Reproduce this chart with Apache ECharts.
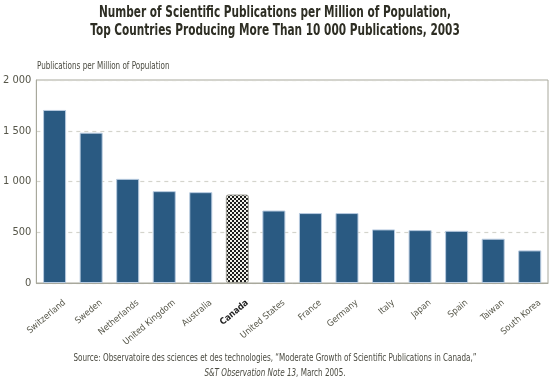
<!DOCTYPE html>
<html><head><meta charset="utf-8">
<script src="https://cdn.jsdelivr.net/npm/echarts@6/dist/echarts.min.js"></script>
<style>html,body{margin:0;padding:0;background:#fff}#c{width:550px;height:392px}</style>
</head><body><div id="c"></div>
<script>
const countries = ["Switzerland","Sweden","Netherlands","United Kingdom","Australia","Canada","United States","France","Germany","Italy","Japan","Spain","Taiwan","South Korea"];
const pubsPerMillion = [1705,1481,1026,905,895,872,714,689,689,528,521,514,436,321];
const yTicks = [0,500,1000,1500,2000];
const highlight = "Canada";
const titleLines = ["Number of Scientific Publications per Million of Population,","Top Countries Producing More Than 10 000 Publications, 2003"];
const yAxisTitle = "Publications per Million of Population";
const sourceLine1 = "Source: Observatoire des sciences et des technologies, \u201cModerate Growth of Scientific Publications in Canada,\u201d";
const sourceItalic = "S&T Observation Note 13";
const sourceRest = ", March 2005.";

const FAM = '"Liberation Sans Narrow","DejaVu Sans Condensed","Noto Sans",sans-serif';
const mc = document.createElement('canvas').getContext('2d');
function measure(text, font){ mc.font = font; return mc.measureText(text).width; }
// condense factors so text widths match the reference's narrow typeface
const titleScale = 352 / measure(titleLines[0], 'bold 15px ' + FAM);
const smallScale = 403 / measure(sourceLine1, '10px ' + FAM);

// checker pattern for highlighted bar
const pc = document.createElement('canvas');
pc.width = 4; pc.height = 4;
const g = pc.getContext('2d');
g.fillStyle = '#f2f2ea'; g.fillRect(0,0,4,4);
g.fillStyle = '#1e1e1e';
g.fillRect(0,0,2,2); g.fillRect(2,2,2,2);

const fmt = v => { const s = String(v); return s.length > 3 ? s.slice(0, s.length-3) + ' ' + s.slice(-3) : s; };

const textColor = '#4a4a40';

const chart = echarts.init(document.getElementById('c'), null, {renderer:'canvas'});
chart.setOption({
  animation:false,
  graphic:[
    {type:'text', x:275, y:6, scaleX:titleScale, silent:true,
      style:{text:titleLines[0], font:'bold 15px '+FAM, fill:'#2e2e24', align:'center', verticalAlign:'top'}},
    {type:'text', x:275, y:24, scaleX:titleScale, silent:true,
      style:{text:titleLines[1], font:'bold 15px '+FAM, fill:'#2e2e24', align:'center', verticalAlign:'top'}},
    {type:'text', x:37, y:61, scaleX:smallScale, silent:true,
      style:{text:yAxisTitle, font:'10px '+FAM, fill:textColor, align:'left', verticalAlign:'top'}},
    {type:'text', x:275, y:353, scaleX:smallScale, silent:true,
      style:{text:sourceLine1, font:'10px '+FAM, fill:textColor, align:'center', verticalAlign:'top'}},
    {type:'text', x:275, y:368, scaleX:smallScale, silent:true,
      style:{text:'{i|'+sourceItalic+'}{n|'+sourceRest+'}', font:'10px '+FAM, fill:textColor, align:'center', verticalAlign:'top',
        rich:{i:{font:'italic 10px '+FAM, fill:textColor}, n:{font:'10px '+FAM, fill:textColor}}}}
  ],
  grid:{left:35,right:2,top:80,bottom:109,show:true,borderColor:'#a8a89c',borderWidth:1},
  xAxis:{
    type:'category', data:countries,
    axisLine:{lineStyle:{color:'#a8a89c'}},
    axisTick:{inside:true,length:4,lineStyle:{color:'#8a8a80'}},
    axisLabel:{rotate:40,margin:27,padding:[0,-13,0,0],fontFamily:FAM,fontSize:9,color:'#555548',interval:0,
      formatter:v=> v===highlight ? '{b|'+v+'}' : v,
      rich:{b:{fontWeight:'bold',color:'#222',fontFamily:FAM,fontSize:9}}}
  },
  yAxis:{
    type:'value', min:yTicks[0], max:yTicks[yTicks.length-1], interval:500,
    axisLine:{show:true,lineStyle:{color:'#a8a89c'}},
    axisTick:{show:false},
    axisLabel:{formatter:fmt,fontFamily:FAM,fontSize:11,color:'#555548',margin:5},
    splitLine:{lineStyle:{color:'#d4d4cc',type:[4,4],width:1.2}}
  },
  series:[{
    type:'bar', barCategoryGap:'37%',
    data: pubsPerMillion.map((v,i)=> countries[i]===highlight ?
      {value:v,itemStyle:{color:{image:pc,repeat:'repeat'},borderColor:'#a0a098',borderWidth:1,borderRadius:2}} :
      {value:v}),
    itemStyle:{color:'#2a5a82',borderColor:'#b8cbe0',borderWidth:1}
  }]
});
</script></body></html>
